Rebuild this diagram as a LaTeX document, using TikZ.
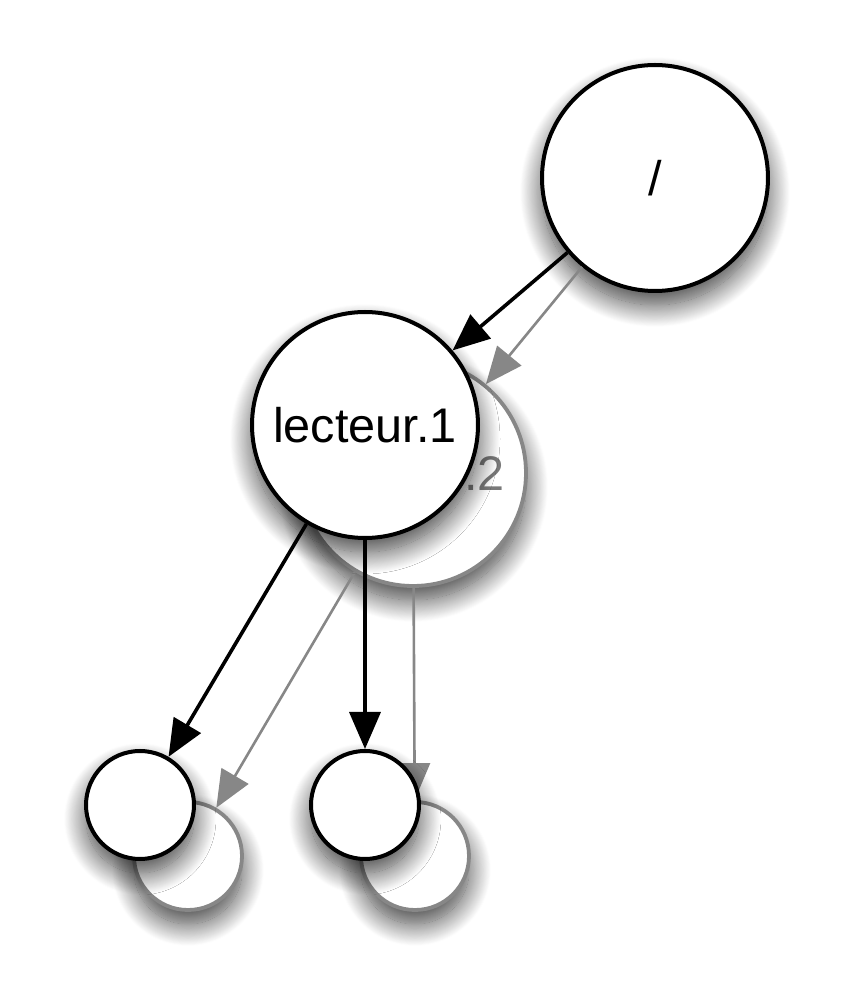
\documentclass[tikz,border=0pt]{standalone}
\usepackage{fontspec}
\setmainfont{Liberation Sans}
\usepackage{tikz}
\usepackage{xcolor}
\usetikzlibrary{arrows.meta,shadows.blur}
\definecolor{treegray}{RGB}{135,135,135}
\tikzset{
    tree-shadow/.style = {blur shadow={shadow xshift=0pt, shadow yshift=-7pt, shadow blur radius=11pt, shadow blur steps=25, shadow opacity=75}},
    black-node/.style = {draw=black, fill=white, line width=2pt, circle, inner sep=0pt, tree-shadow},
    gray-node/.style = {draw=treegray, fill=white, line width=1.9pt, circle, inner sep=0pt, text=treegray!90!black, tree-shadow},
    black-edge/.style = {draw=black, line width=1.8pt, -{Triangle[length=18.5pt,width=15.5pt]}},
    gray-edge/.style = {draw=treegray, line width=1.3pt, -{Triangle[length=18.5pt,width=15.5pt]}},
}

\begin{document}
\begin{tikzpicture}[x=0.5pt,y=0.5pt,font=\fontsize{24.3pt}{29pt}\selectfont]
\useasboundingbox (0,0) rectangle (849,1008);
% second copy, drawn underneath
\node [gray-node, minimum size=113pt] (lect2) at (413,535) {lecteur.2};
\node [gray-node, minimum size=54pt] (leafa2) at (188,152) {};
\node [gray-node, minimum size=54pt] (leafb2) at (415,152) {};
% root
\node [black-node, minimum size=113pt] (root) at (655,830) {/};
\draw [gray-edge] (root) -- (lect2);
\draw [gray-edge] (lect2) -- (leafa2);
\draw [gray-edge] (lect2) -- (leafb2);
% first copy
\node [black-node, minimum size=113pt] (lect1) at (365,583) {lecteur.1};
\node [black-node, minimum size=54pt] (leafa1) at (140,203) {};
\node [black-node, minimum size=54pt] (leafb1) at (365,203) {};
\draw [black-edge] (root) -- (lect1);
\draw [black-edge] (lect1) -- (leafa1);
\draw [black-edge] (lect1) -- (leafb1);
\end{tikzpicture}
\end{document}
